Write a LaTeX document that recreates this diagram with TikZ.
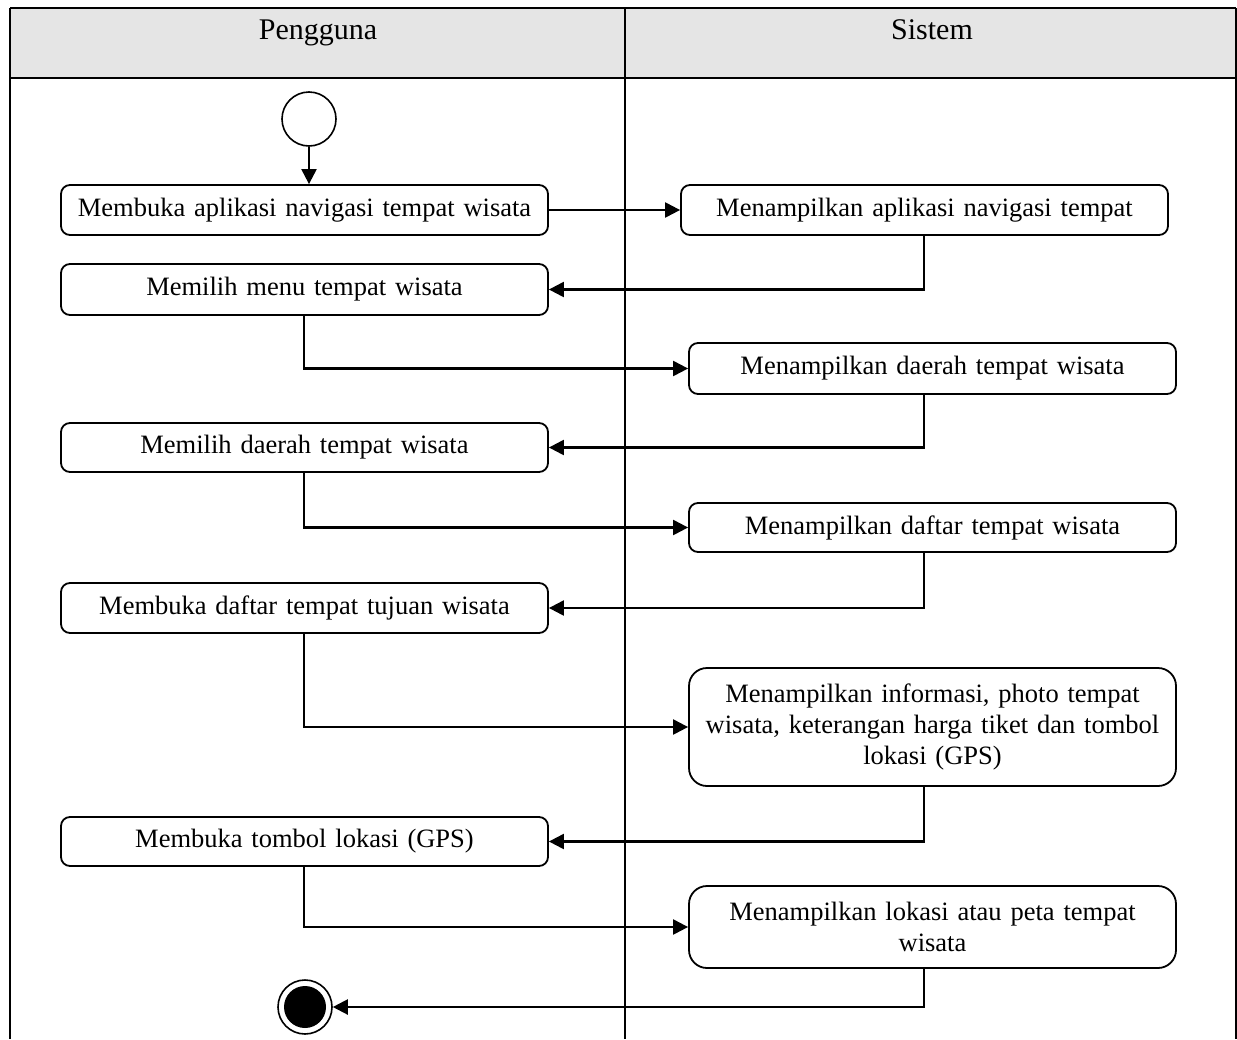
\documentclass[tikz,border=0pt]{standalone}
\usepackage{fontspec}
\setmainfont{Liberation Serif}
\usetikzlibrary{arrows.meta}
\begin{document}
\begin{tikzpicture}[x=1pt,y=-1pt,
  lane/.style={line width=1.6pt},
  act/.style={draw, line width=1.8pt, rounded corners=9pt, align=center, inner sep=0pt,
    minimum width=487pt, text width=470pt, font=\fontsize{26.5}{31}\selectfont},
  bigact/.style={act, rounded corners=18pt},
  arr/.style={line width=2.2pt, -{Triangle[length=15pt,width=15pt]}},
  hdr/.style={font=\fontsize{30}{34}\selectfont, anchor=base}]
\useasboundingbox (0,0) rectangle (1237,1039);
% header
\fill[gray!20] (10,8) rectangle (1236,78);
\draw[lane] (10,8) -- (1236,8);
\draw[lane] (10,78) -- (1236,78);
\draw[lane] (10,8) -- (10,1039);
\draw[lane] (625,8) -- (625,1039);
\draw[lane] (1236,8) -- (1236,1039);
\node[hdr] (hP) at (318,39) {Pengguna};
\node[hdr] (hS) at (932,39) {Sistem};
% start / end
\node[draw, circle, line width=1.6pt, fill=white, minimum size=54pt, inner sep=0pt] (start) at (309,119) {};
\node[draw, circle, line width=1.6pt, fill=white, minimum size=54pt, inner sep=0pt] (end) at (305,1007) {};
\fill[black] (end.center) circle (21pt);
% user activities
\node[act, minimum height=50pt] (b1) at (304.5,210) {Membuka aplikasi navigasi tempat wisata};
\node[act, minimum height=51pt] (b2) at (304.5,289.5) {Memilih menu tempat wisata};
\node[act, minimum height=49pt] (b3) at (304.5,447.5) {Memilih daerah tempat wisata};
\node[act, minimum height=50pt] (b4) at (304.5,608) {Membuka daftar tempat tujuan wisata};
\node[act, minimum height=49pt] (b5) at (304.5,841.5) {Membuka tombol lokasi (GPS)};
% system activities
\node[act, minimum height=50pt] (s1) at (924.5,210) {Menampilkan aplikasi navigasi tempat};
\node[act, minimum height=51pt] (s2) at (932.5,368.5) {Menampilkan daerah tempat wisata};
\node[act, minimum height=49pt] (s3) at (932.5,527.5) {Menampilkan daftar tempat wisata};
\node[bigact, minimum height=118pt] (s4) at (932.5,727) {Menampilkan informasi, photo tempat\\wisata, keterangan harga tiket dan tombol\\lokasi (GPS)};
\node[bigact, minimum height=82pt] (s5) at (932.5,927) {Menampilkan lokasi atau peta tempat\\wisata};
\coordinate (lx) at (924,0);
\coordinate (ux) at (304,0);
% flows
\draw[arr] (start.south) -- (start.south |- b1.north);
\draw[arr] (b1.east) -- (s1.west);
\draw[arr] (s1.south -| lx) |- (b2.east);
\draw[arr] (b2.south -| ux) |- (s2.west);
\draw[arr] (s2.south -| lx) |- (b3.east);
\draw[arr] (b3.south -| ux) |- (s3.west);
\draw[arr] (s3.south -| lx) |- (b4.east);
\draw[arr] (b4.south -| ux) |- (s4.west);
\draw[arr] (s4.south -| lx) |- (b5.east);
\draw[arr] (b5.south -| ux) |- (s5.west);
\draw[arr] (s5.south -| lx) |- (end.east);
\end{tikzpicture}
\end{document}
